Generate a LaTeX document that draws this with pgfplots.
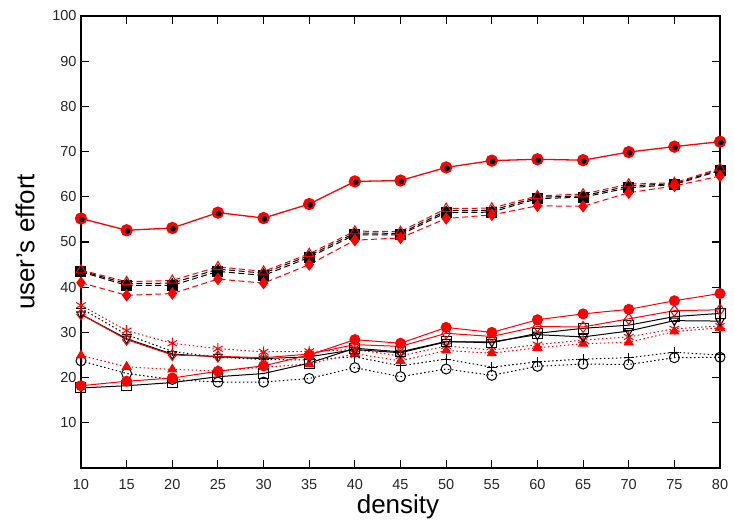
\documentclass[border=0pt]{standalone}
\usepackage{fontspec}
\setmainfont{Liberation Sans}
\usepackage{pgfplots}
\usepackage{pgfplotstable}
\pgfplotsset{compat=1.18}

\pgfplotstableread{
x   A    B    C    D    E
10  55.2 43.4 43.6 43.8 41.0
15  52.6 40.4 40.8 41.2 38.2
20  53.1 40.4 40.9 41.5 38.6
25  56.5 43.5 44.0 44.5 41.8
30  55.3 42.6 43.1 43.5 40.9
35  58.4 46.6 47.0 47.4 45.0
40  63.4 51.6 52.0 52.4 50.4
45  63.6 51.6 51.9 52.3 50.9
50  66.5 56.5 56.9 57.4 55.2
55  68.0 56.6 57.0 57.5 56.0
60  68.3 59.6 59.9 60.2 58.0
65  68.1 59.9 60.2 60.6 57.9
70  69.9 62.0 62.4 62.8 60.9
75  71.1 62.7 62.9 63.1 62.4
80  72.2 65.8 66.0 66.3 64.6
}\tabup

\pgfplotstableread{
x   RC   BS   RD   BV   RA   RT   BP   BO
10  18.2 17.7 34.0 34.0 36.0 24.9 35.3 23.7
15  19.2 18.2 28.4 28.6 30.4 22.4 29.5 20.9
20  19.9 18.9 25.0 25.2 27.6 21.8 25.8 19.6
25  21.4 20.2 24.7 24.6 26.4 21.5 24.5 19.0
30  22.6 20.9 24.4 24.2 25.7 22.3 24.0 19.0
35  25.0 23.2 25.2 24.6 25.8 23.0 23.9 19.8
40  28.4 26.5 27.3 26.2 26.2 25.3 24.6 22.2
45  27.6 25.7 26.9 25.5 24.8 23.7 22.6 20.2
50  31.1 28.0 29.8 27.9 27.0 26.0 24.1 21.9
55  30.0 27.7 29.1 27.9 26.1 25.4 22.3 20.5
60  32.8 29.8 31.3 29.5 27.3 26.6 23.5 22.5
65  34.1 30.9 31.2 29.0 28.3 27.5 24.1 23.0
70  35.1 31.6 33.0 30.3 29.0 27.8 24.4 22.9
75  37.0 33.5 34.8 32.6 30.8 30.2 25.6 24.4
80  38.6 34.2 35.0 32.5 31.4 31.0 25.0 24.5
}\tablo

\begin{document}
\begin{tikzpicture}
\begin{axis}[
  scale only axis, width=639pt, height=452pt,
  xmin=10, xmax=80, ymin=0, ymax=100,
  xtick={10,15,...,80}, ytick={10,20,...,100},
  xtick pos=both, ytick pos=both,
  tick align=inside,
  major tick length=8pt,
  axis line style={line width=1.4pt},
  tick style={black, line width=1.1pt},
  /pgf/number format/assume math mode=true,
  ticklabel style={font=\fontsize{14.5}{16}\selectfont, text=black!85},
  xticklabel style={yshift=-8pt},
  yticklabel style={xshift=-1pt},
  every axis plot/.append style={line width=1pt},
  dashline/.style={dash pattern=on 6pt off 3.5pt},
  dotline/.style={dash pattern=on 1.5pt off 2.5pt},
]
% upper solid circles
\addplot[red, line width=1.3pt, mark=*, mark size=5.5pt, mark options={solid, fill=red}] table[x=x,y=A]{\tabup};
\addplot[black, only marks, mark=*, mark size=2.3pt, mark options={solid, fill=black, xshift=0.8pt, yshift=-0.8pt}] table[x=x,y=A]{\tabup};
% dashed group
\addplot[black, dashline, mark=square*, mark size=5pt, mark options={solid, fill=black}] table[x=x,y=B]{\tabup};
\addplot[black, dashline, mark=triangle*, mark size=4.5pt, mark options={solid, fill=black}] table[x=x,y=C]{\tabup};
\addplot[red, dashline, mark=triangle, mark size=5.5pt, mark options={solid}] table[x=x,y=D]{\tabup};
\addplot[red, dashline, mark=diamond*, mark size=5.5pt, mark options={solid, fill=red}] table[x=x,y=E]{\tabup};
% lower group
\addplot[black, dotline, mark=+, mark size=5pt, mark options={solid}] table[x=x,y=BP]{\tablo};
\addplot[black, dotline, mark=o, mark size=5pt, mark options={solid}] table[x=x,y=BO]{\tablo};
\addplot[red, dotline, mark=asterisk, mark size=5.5pt, mark options={solid}] table[x=x,y=RA]{\tablo};
\addplot[red, dotline, mark=triangle*, mark size=5pt, mark options={solid, fill=red}] table[x=x,y=RT]{\tablo};
\addplot[black, mark=square, mark size=5pt, mark options={solid}] table[x=x,y=BS]{\tablo};
\addplot[black, mark=triangle, mark size=5pt, mark options={solid, rotate=180}] table[x=x,y=BV]{\tablo};
\addplot[red, mark=diamond, mark size=5.5pt, mark options={solid}] table[x=x,y=RD]{\tablo};
\addplot[red, mark=*, mark size=5pt, mark options={solid, fill=red}] table[x=x,y=RC]{\tablo};
\end{axis}
\node[font=\fontsize{26}{30}\selectfont] at (317pt,-39pt) {density};
\node[font=\fontsize{26}{30}\selectfont, rotate=90] at (-56pt,226pt) {user’s effort};
\path[use as bounding box] (-81pt,-57pt) rectangle (653pt,468pt);
\end{tikzpicture}
\end{document}
